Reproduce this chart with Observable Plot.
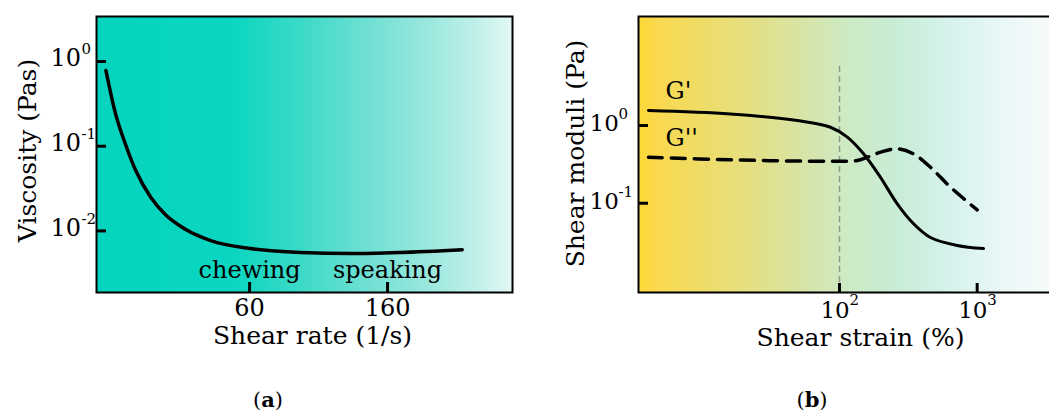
<!DOCTYPE html>
<html>
<head>
<meta charset="utf-8">
<script src="https://cdn.jsdelivr.net/npm/d3@7"></script>
<script src="https://cdn.jsdelivr.net/npm/@observablehq/plot@0.6"></script>
<style>
  html, body { margin: 0; padding: 0; background: #fff; width: 1049px; height: 413px; overflow: hidden; }
  #wrap { position: relative; width: 1049px; height: 413px; overflow: hidden; font-family: "DejaVu Serif", serif; }
  #pa, #pb { position: absolute; top: 0; width: 530px; height: 360px; }
  #pa { left: 0; }
  #pb { left: 530px; }
  #pa svg, #pb svg { max-width: none; }
  .cap { position: absolute; top: 389px; font-size: 21px; font-family: "DejaVu Serif", serif; transform: translateX(-50%); color: #000; line-height: 1; }
</style>
</head>
<body>
<div id="wrap">
  <div id="pa"></div>
  <div id="pb"></div>
  <div class="cap" style="left:268px">(<b>a</b>)</div>
  <div class="cap" style="left:812px">(<b>b</b>)</div>
</div>
<script>
// ---- Panel (a) data: viscosity vs shear rate ----
const shearRate = [21.6, 23.1, 24.9, 26.7, 29.7, 33.0, 38.1, 45.5, 60.4, 86, 123, 175, 272];
const viscosity = [0.783, 0.246, 0.102, 0.0516, 0.025, 0.0155, 0.0104, 0.0077, 0.0062, 0.00556, 0.0054, 0.00556, 0.006];
const aXTicks = [60, 160];
const aXTickLabels = ["60", "160"];
const aYTicks = [1, 0.1, 0.01];
const aYTickExp = ["0", "-1", "-2"];
const aRegions = ["chewing", "speaking"];
const aRegionX = [60, 160];

// ---- Panel (b) data: shear moduli vs shear strain ----
const strainGp = [4.1, 16.1, 49.3, 86, 114, 149, 199, 262, 344, 458, 716, 1112];
const gPrime = [1.56, 1.41, 1.16, 0.95, 0.71, 0.436, 0.214, 0.099, 0.0548, 0.0362, 0.0286, 0.0261];
const strainGpp = [4.1, 16.1, 86, 134.5, 159, 199, 262, 344, 458, 640, 1000];
const gDoublePrime = [0.391, 0.362, 0.347, 0.355, 0.391, 0.454, 0.501, 0.432, 0.29, 0.161, 0.082];
const bXTicks = [100, 1000];
const bXTickExp = ["2", "3"];
const bYTicks = [1, 0.1];
const bYTickExp = ["0", "-1"];
const yieldStrain = 100;
const seriesLabels = ["G'", "G''"];
const seriesLabelY = [2.74, 0.68];

const FONT = "DejaVu Serif";
const W = 530, H = 360;

function addGradient(svg, id, stops) {
  const ns = "http://www.w3.org/2000/svg";
  const defs = document.createElementNS(ns, "defs");
  const g = document.createElementNS(ns, "linearGradient");
  g.setAttribute("id", id);
  g.setAttribute("x1", "0"); g.setAttribute("x2", "1");
  g.setAttribute("y1", "0"); g.setAttribute("y2", "0");
  for (const [o, c] of stops) {
    const s = document.createElementNS(ns, "stop");
    s.setAttribute("offset", o);
    s.setAttribute("stop-color", c);
    g.appendChild(s);
  }
  defs.appendChild(g);
  svg.insertBefore(defs, svg.firstChild);
}

const styleObj = {fontFamily: FONT, fontSize: "24px", background: "transparent", color: "#000", overflow: "visible", maxWidth: "none"};

// ---------- Panel (a) ----------
{
  const mL = 96, mR = 18, mT = 16, mB = 68;
  const pw = W - mL - mR, ph = H - mT - mB;
  const curve = shearRate.map((x, i) => ({x, y: viscosity[i]}));
  const svg = Plot.plot({
    width: W, height: H,
    marginLeft: mL, marginRight: mR, marginTop: mT, marginBottom: mB,
    style: styleObj,
    x: {type: "log", domain: [20.2, 389], axis: null},
    y: {type: "log", domain: [0.001875, 3.40], axis: null},
    marks: [
      Plot.frame({fill: "url(#gA)", stroke: null}),
      Plot.text(aYTicks, {y: d => d, frameAnchor: "left", text: () => "10", textAnchor: "start", lineAnchor: "middle", dx: -46, dy: -3, fontSize: 24, fill: "#000"}),
      Plot.text(aYTicks, {y: d => d, frameAnchor: "left", text: (d, i) => aYTickExp[i], textAnchor: "start", lineAnchor: "middle", dx: -15, dy: -12, fontSize: 15, fill: "#000"}),
      Plot.text(aXTicks, {x: d => d, frameAnchor: "bottom", text: (d, i) => aXTickLabels[i], textAnchor: "middle", lineAnchor: "middle", dy: 16, fontSize: 24, fill: "#000"}),
      Plot.tickY(aYTicks, {y: d => d, insetRight: pw - 10, stroke: "#000", strokeWidth: 3}),
      Plot.tickX(aXTicks, {x: d => d, insetTop: ph - 10, stroke: "#000", strokeWidth: 3}),
      Plot.line(curve, {x: "x", y: "y", curve: "monotone-x", stroke: "#000", strokeWidth: 3.5}),
      Plot.text(aRegions, {x: (d, i) => aRegionX[i], y: 0.0034, text: d => d, fontSize: 24, textAnchor: "middle", lineAnchor: "middle", fill: "#000"}),
      Plot.text(["Viscosity (Pas)"], {frameAnchor: "left", textAnchor: "middle", lineAnchor: "middle", rotate: -90, dx: -69, dy: -4, fontSize: 25, fill: "#000"}),
      Plot.text(["Shear rate (1/s)"], {frameAnchor: "bottom", textAnchor: "middle", lineAnchor: "middle", dx: 8, dy: 43, fontSize: 25, fill: "#000"}),
      Plot.frame({stroke: "#000", strokeWidth: 2})
    ]
  });
  addGradient(svg, "gA", [
    ["0", "#06d4bf"], ["0.33", "#0ad6c1"], ["0.5", "#3fdac8"], ["0.65", "#6fe0d3"],
    ["0.8", "#9be8de"], ["0.92", "#c3f0ea"], ["1", "#e4f8f5"]
  ]);
  document.getElementById("pa").appendChild(svg);
}

// ---------- Panel (b) ----------
{
  const mL = 108, mR = 8, mT = 16, mB = 68;
  const pw = W - mL - mR, ph = H - mT - mB;
  const gp = strainGp.map((x, i) => ({x, y: gPrime[i]}));
  const gpp = strainGpp.map((x, i) => ({x, y: gDoublePrime[i]}));
  const svg = Plot.plot({
    width: W, height: H,
    marginLeft: mL, marginRight: mR, marginTop: mT, marginBottom: mB,
    style: styleObj,
    x: {type: "log", domain: [3.47, 3524], axis: null},
    y: {type: "log", domain: [0.0071, 25.3], axis: null},
    marks: [
      Plot.frame({fill: "url(#gB)", stroke: null}),
      Plot.ruleX([yieldStrain], {x: d => d, y1: 0.0071, y2: 6.5, stroke: "#8c9a8c", strokeWidth: 1.5, strokeDasharray: "6,4"}),
      Plot.text(bYTicks, {y: d => d, frameAnchor: "left", text: () => "10", textAnchor: "start", lineAnchor: "middle", dx: -49, dy: -2, fontSize: 23, fill: "#000"}),
      Plot.text(bYTicks, {y: d => d, frameAnchor: "left", text: (d, i) => bYTickExp[i], textAnchor: "start", lineAnchor: "middle", dx: -20, dy: -11, fontSize: 15, fill: "#000"}),
      Plot.text(bXTicks, {x: d => d, frameAnchor: "bottom", text: () => "10", textAnchor: "start", lineAnchor: "middle", dx: -19, dy: 18, fontSize: 23, fill: "#000"}),
      Plot.text(bXTicks, {x: d => d, frameAnchor: "bottom", text: (d, i) => bXTickExp[i], textAnchor: "start", lineAnchor: "middle", dx: 10, dy: 8, fontSize: 15, fill: "#000"}),
      Plot.tickY(bYTicks, {y: d => d, insetRight: pw - 10, stroke: "#000", strokeWidth: 3}),
      Plot.tickX(bXTicks, {x: d => d, insetTop: ph - 9, stroke: "#000", strokeWidth: 3}),
      Plot.line(gp, {x: "x", y: "y", curve: "catmull-rom", stroke: "#000", strokeWidth: 3}),
      Plot.line(gpp, {x: "x", y: "y", curve: "catmull-rom", stroke: "#000", strokeWidth: 3.5, strokeDasharray: "14,9"}),
      Plot.text(seriesLabels, {x: 5.45, y: (d, i) => seriesLabelY[i], text: d => d, textAnchor: "start", lineAnchor: "middle", fontSize: 24, fill: "#000"}),
      Plot.text(["Shear moduli (Pa)"], {frameAnchor: "left", textAnchor: "middle", lineAnchor: "middle", rotate: -90, dx: -63, dy: -1, fontSize: 25, fill: "#000"}),
      Plot.text(["Shear strain (%)"], {frameAnchor: "bottom", textAnchor: "middle", lineAnchor: "middle", dx: 15, dy: 45, fontSize: 25, fill: "#000"}),
      Plot.frame({stroke: "#000", strokeWidth: 2})
    ]
  });
  addGradient(svg, "gB", [
    ["0", "#fdd835"], ["0.05", "#f9d950"], ["0.25", "#e6df7d"], ["0.42", "#d5e5ad"],
    ["0.5", "#cdeac3"], ["0.62", "#c8ecd5"], ["0.75", "#d6f2ec"], ["0.9", "#ecf8f7"], ["1", "#f7fbfb"]
  ]);
  document.getElementById("pb").appendChild(svg);
}
</script>
</body>
</html>
